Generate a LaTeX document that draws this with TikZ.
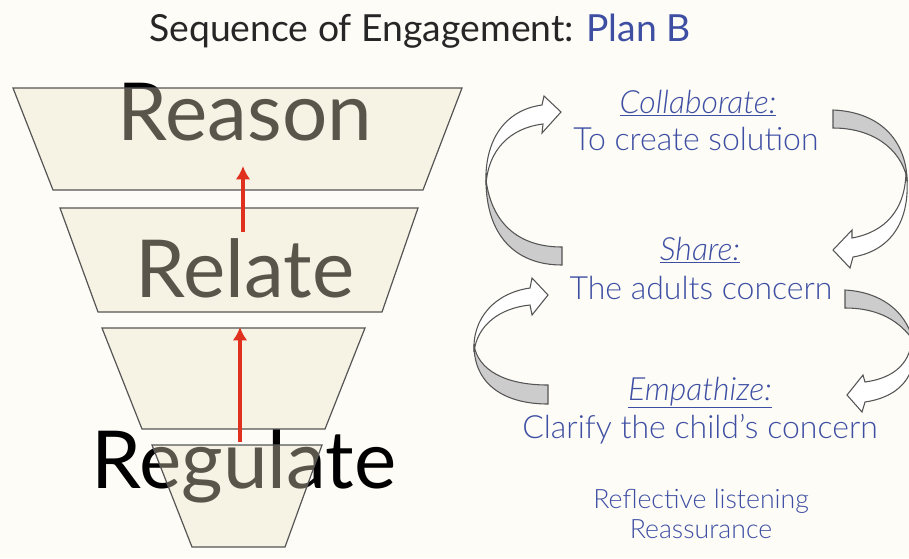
\documentclass[tikz,border=0pt]{standalone}
\usepackage{fontspec}
\setmainfont{Lato}
\newfontfamily\lightfont{Lato Light}[ItalicFont={Lato Light Italic}]
\usetikzlibrary{arrows.meta}
\definecolor{bgcream}{HTML}{FDFCF7}
\definecolor{funnelfill}{HTML}{ECE2C6}
\definecolor{edgegray}{HTML}{555555}
\definecolor{planblue}{HTML}{3E4FA3}
\definecolor{arrowred}{HTML}{E0301E}
\definecolor{bandgray}{HTML}{CCCCCC}
\tikzset{
  level/.style={draw=edgegray, line width=0.9pt, fill=funnelfill, fill opacity=0.38},
  word/.style={anchor=base, inner sep=0pt, font=\fontsize{60}{60}\selectfont},
  bluetext/.style={anchor=base, inner sep=0pt, text=planblue, font=\lightfont\fontsize{24}{24}\selectfont},
  heading/.style={bluetext, font=\lightfont\fontsize{24}{24}\selectfont\itshape},
  uparrow/.style={draw=arrowred, line width=2.8pt, -{Latex[length=10pt,width=11pt]}},
  ribbon/.style={draw=edgegray, line width=0.8pt, fill=white},
  ribbonback/.style={draw=edgegray, line width=0.8pt, fill=bandgray},
}
\begin{document}
\begin{tikzpicture}[x=0.75pt, y=-0.75pt]
   \fill[bgcream] (0,0) rectangle (909,558);
   \useasboundingbox (0,0) rectangle (909,558);
   \clip (0,0) rectangle (909,558);
   % title
   \node[anchor=base, inner sep=0pt, text=black!85, font=\fontsize{28}{28}\selectfont] (title) at (420,41)
      {Sequence of Engagement: \textcolor{planblue}{Plan B}};
   % funnel words, the levels lie over them
   \node[word] (reason) at (245,140) {Reason};
   \node[word] (relate) at (245,297) {Relate};
   \node[word] (regulate) at (244,488) {Regulate};
   \draw[level] (13,88) -- (462,88) -- (423,190) -- (53,190) -- cycle;
   \draw[level] (60,208) -- (418,208) -- (382,312) -- (98,312) -- cycle;
   \draw[level] (102,328) -- (365,328) -- (325,429) -- (142,429) -- cycle;
   \draw[level] (152,445) -- (322,445) -- (285,547) -- (192,547) -- cycle;
   \coordinate (up1s) at (243,232);
   \coordinate (up1e) at (243,166);
   \coordinate (up2s) at (240,442);
   \coordinate (up2e) at (240,327);
   \draw[uparrow] (up1s) -- (up1e);
   \draw[uparrow] (up2s) -- (up2e);
   % steps of plan B
   \node[heading] (collab) at (698,113) {\underline{Collaborate:}};
   \node[bluetext] (create) at (696,150) {To create solution};
   \node[heading] (share) at (700,260) {\underline{Share:}};
   \node[bluetext] (adults) at (701,299) {The adults concern};
   \node[heading] (empath) at (700,400) {\underline{Empathize:}};
   \node[bluetext] (clarify) at (700,438) {Clarify the child’s concern};
   \node[bluetext, font=\lightfont\fontsize{20}{20}\selectfont] (reflect) at (701,508) {Reflective listening};
   \node[bluetext, font=\lightfont\fontsize{20}{20}\selectfont] (reassure) at (701,538) {Reassurance};
   % curved arrows, left side
   \draw[ribbon] (486,185) .. controls (484,140) and (505,110) .. (542,105) -- (544,96) -- (561,112)
      -- (542,133) -- (543,124) .. controls (510,128) and (488,150) .. (486,185) -- cycle;
   \draw[ribbonback] (562,247) .. controls (520,247) and (492,225) .. (486,180)
      .. controls (486,235) and (515,265) .. (562,265) -- cycle;
   \draw[ribbon] (474,352) .. controls (472,318) and (495,293) .. (530,288) -- (532,278) -- (548,295)
      -- (532,315) -- (530,305) .. controls (500,308) and (477,325) .. (474,352) -- cycle;
   \draw[ribbonback] (548,385) .. controls (505,385) and (478,370) .. (474,345)
      .. controls (474,385) and (505,404) .. (548,404) -- cycle;
   % curved arrows, right side
   \draw[ribbon] (906,170) .. controls (906,210) and (885,232) .. (852,238) -- (852,230) -- (833,250)
      -- (850,268) -- (853,257) .. controls (895,250) and (912,215) .. (906,170) -- cycle;
   \draw[ribbonback] (833,110) .. controls (880,112) and (905,140) .. (907,178)
      .. controls (900,148) and (872,128) .. (833,128) -- cycle;
   \draw[ribbon] (912,335) .. controls (912,362) and (895,378) .. (865,382) -- (863,375) -- (847,395)
      -- (862,412) -- (865,402) .. controls (905,396) and (920,370) .. (912,335) -- cycle;
   \draw[ribbonback] (845,290) .. controls (880,292) and (905,310) .. (913,340)
      .. controls (900,322) and (880,308) .. (845,308) -- cycle;
\end{tikzpicture}
\end{document}
